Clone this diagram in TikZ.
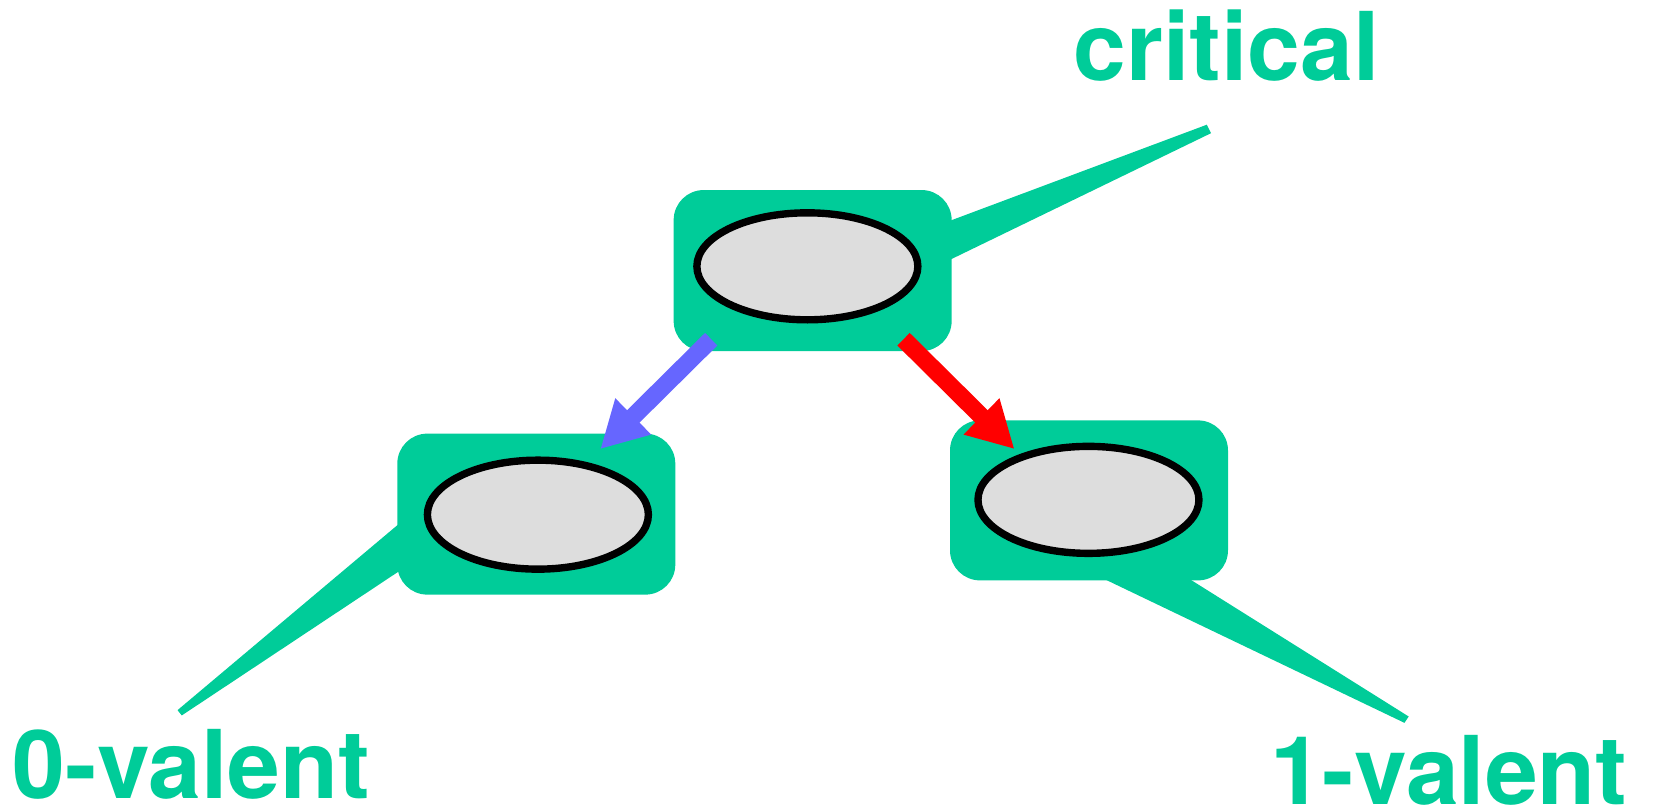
\documentclass[tikz,border=0pt]{standalone}
\usepackage{fontspec}
\setmainfont{TeX Gyre Heros}
\usetikzlibrary{arrows.meta, shapes.geometric, calc}
\definecolor{valgreen}{RGB}{0,204,153}
\definecolor{stepblue}{RGB}{102,102,255}
\definecolor{stepred}{RGB}{255,0,0}
\definecolor{confgray}{RGB}{221,221,221}

\begin{document}
\begin{tikzpicture}[x=0.10568mm, y=-0.10568mm,
  every node/.style={inner sep=0pt, outer sep=0pt},
  stage/.style={fill=valgreen, rounded corners=3mm, minimum width=27.8mm, minimum height=16.1mm},
  conf/.style={ellipse, draw=black, line width=2.1pt, fill=confgray, minimum width=22.1mm, minimum height=10.7mm},
  tag/.style={text=valgreen, font=\fontsize{27}{32}\selectfont\bfseries, anchor=base west},
  callout/.style={fill=valgreen},
  move/.style={line width=5pt, -{Triangle[length=4.65mm, width=4.75mm]}}]
  \useasboundingbox (0,0) rectangle (1568,765);
  % labels
  \node[tag] (crit) at (1016,76) {critical};
  \node[tag] (zero) at (12,756) {0-valent};
  \node[tag] (one) at (1202,761) {1-valent};
  % callout wedges
  \fill[callout] (880,216) -- (1142,118) -- (1146,126) -- (880,255) -- cycle;
  \fill[callout] (395,481) -- (168,672) -- (172,677) -- (395,529) -- cycle;
  \fill[callout] (1018,535) -- (1329,684) -- (1333,678) -- (1105,535) -- cycle;
  % configurations
  \node[stage] (top) at (769,256) {};
  \node[stage] (left) at (507.5,486.5) {};
  \node[stage, minimum height=16mm] (right) at (1030.5,473.5) {};
  \node[conf] (ctop) at (764,252) {};
  \node[conf, minimum height=10.9mm] (cleft) at (509,487) {};
  \node[conf] (cright) at (1030,473) {};
  % steps
  \coordinate (b0) at (673,321);
  \coordinate (b1) at (568,425);
  \coordinate (r0) at (855,321);
  \coordinate (r1) at (960,425);
  \draw[move, stepblue] (b0) -- (b1);
  \draw[move, stepred] (r0) -- (r1);
\end{tikzpicture}
\end{document}
